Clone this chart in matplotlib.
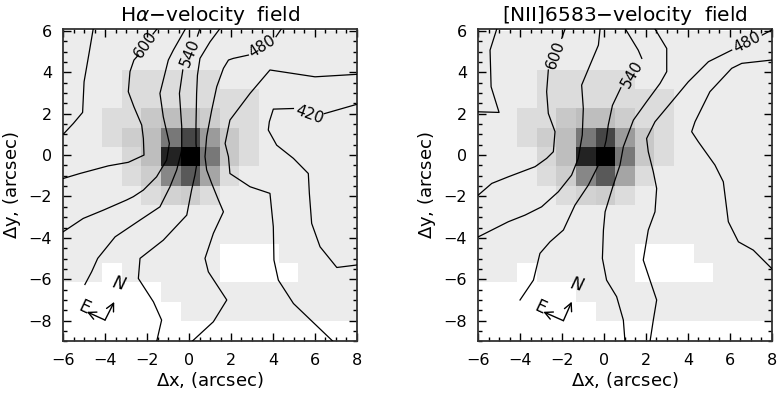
import matplotlib.pyplot as plt
import numpy as np
from matplotlib.ticker import MultipleLocator

plt.rcParams['font.family'] = ['DejaVu Sans']

# continuum image, gray level per cell (0 = black, 255 = white)
# 15 x 15 cells covering x -6..8, y -8..6 ; rows listed from the top
B = 236
W = 255
cont_rows = [
    [B, B, B, B, B, B, B, B, B, B, B, B, B, B, B],
    [B, B, B, B, B, B, B, B, B, B, B, B, B, B, B],
    [B, B, B, 220, 220, 220, 220, 220, B, B, B, B, B, B, B],
    [B, B, B, 220, 220, 220, 220, 220, 220, 220, B, B, B, B, B],
    [B, B, 220, 220, 200, 190, 190, 205, 220, 220, B, B, B, B, B],
    [B, B, 220, 205, 190, 120, 70, 155, 200, 220, B, B, B, B, B],
    [B, B, B, 215, 190, 35, 0, 120, 200, 220, B, B, B, B, B],
    [B, B, B, 220, 205, 135, 90, 165, 220, B, B, B, B, B, B],
    [B, B, B, B, 220, 210, 205, 220, B, B, B, B, B, B, B],
    [B, B, B, B, B, B, B, B, B, B, B, B, B, B, B],
    [B, B, B, B, B, B, B, B, B, B, B, B, B, B, B],
    [B, B, B, B, B, B, B, B, W, W, W, B, B, B, B],
    [B, B, W, B, B, B, B, B, W, W, W, W, B, B, B],
    [W, W, W, W, W, B, B, B, B, B, B, B, B, B, B],
    [W, W, W, W, W, W, B, B, B, B, B, B, B, B, B],
]
cont_extent = [-6, 8, -8, 6]

nan = np.nan

# H-alpha velocity contours (km/s), traced points; nan marks the gap at a label
ha_630 = [(-4.57, 6.12), (-4.76, 4.99), (-5.01, 3.54), (-5.08, 2.06), (-5.52, 1.53), (-6.0, 1.01)]
ha_600 = [(-1.51, 6.12), (-1.72, 5.85), (nan, nan), (-2.42, 4.83), (-2.63, 4.59), (-2.82, 4.03),
          (-2.90, 3.06), (-2.63, 2.33), (-2.26, 1.45), (-2.18, 0.80), (-2.15, 0.0), (-2.90, -0.35),
          (-3.85, -0.52), (-5.21, -0.89), (-6.0, -1.13)]
ha_570 = [(-0.16, 6.12), (-0.75, 5.07), (-0.99, 4.59), (-1.39, 2.98), (-1.23, 1.85), (-0.94, 0.56),
          (-1.07, -0.24), (-1.55, -1.05), (-2.18, -1.69), (-2.66, -2.01), (-2.98, -2.17),
          (-4.09, -2.66), (-5.05, -3.06), (-6.0, -3.70)]
ha_540 = [(0.52, 6.12), (0.40, 5.75), (nan, nan), (-0.30, 4.11), (-0.46, 2.98), (-0.35, 1.37),
          (-0.35, 0.24), (-0.59, -0.72), (-0.91, -1.53), (-1.39, -2.50), (-2.34, -3.14),
          (-3.53, -3.95), (-4.36, -4.99), (-4.65, -5.64), (-4.97, -6.25)]
ha_510 = [(1.48, 6.12), (1.0, 5.47), (0.52, 4.67), (0.40, 3.86), (0.36, 2.98), (0.33, 1.45),
          (0.33, 0.56), (0.40, -0.24), (0.28, -0.97), (0.12, -1.69), (-0.11, -2.90), (-1.23, -4.11),
          (-2.34, -4.99), (-2.42, -5.96), (-1.70, -7.09), (-1.31, -7.97), (-1.55, -9.02)]
ha_480 = [(4.42, 6.12), (4.15, 5.72), (nan, nan), (2.83, 4.83), (2.11, 4.67), (1.88, 4.59),
          (1.64, 4.19), (1.32, 3.30), (1.08, 2.17), (0.84, 0.89), (0.76, -0.08), (0.84, -0.72),
          (1.08, -1.37), (1.40, -2.17), (1.64, -2.74), (1.16, -3.78), (0.76, -4.99), (0.92, -5.64),
          (1.80, -7.0), (1.16, -8.05), (0.12, -9.02)]
ha_450 = [(8.0, 3.90), (6.01, 3.78), (3.86, 4.11), (2.91, 2.98), (1.95, 1.69), (1.72, 0.56),
          (1.88, -0.08), (1.95, -0.89), (2.91, -1.53), (3.86, -1.85), (4.02, -3.46), (4.05, -5.07),
          (4.26, -6.04), (4.98, -7.17), (6.89, -9.02)]
ha_420 = [(8.0, 2.45), (6.45, 2.0), (nan, nan), (4.98, 2.25), (4.02, 2.22), (3.83, 1.61),
          (3.78, 1.21), (4.18, 0.48), (4.98, -0.16), (5.69, -0.89), (5.74, -1.85), (5.85, -3.30),
          (6.25, -4.43), (7.05, -5.43), (8.0, -5.31)]
ha_lines = [ha_630, ha_600, ha_570, ha_540, ha_510, ha_480, ha_450, ha_420]
ha_labels = [("600", -2.08, 5.32, 55), ("540", 0.05, 4.93, 68),
             ("480", 3.48, 5.25, 32), ("420", 5.72, 1.95, -20)]

# [NII]6583 velocity contours
n2_630 = [(-5.12, 6.09), (-5.44, 5.07), (-5.39, 3.30), (-5.01, 2.06), (-6.0, 2.09)]
n2_600 = [(-1.86, 6.09), (-2.02, 5.64), (nan, nan), (-2.66, 4.11), (-2.74, 3.06), (-2.66, 2.01),
          (-2.34, 1.13), (-2.42, 0.16), (-2.74, -0.16), (-3.29, -0.56), (-4.57, -1.05),
          (-5.36, -1.37), (-6.0, -1.93)]
n2_570 = [(-0.19, 6.09), (-0.27, 5.31), (-0.67, 4.35), (-1.07, 3.38), (-0.99, 2.25), (-1.04, 0.97),
          (-1.23, -0.16), (-1.55, -0.97), (-2.18, -1.77), (-2.98, -2.50), (-3.77, -2.90),
          (-4.57, -3.22), (-6.0, -3.95)]
n2_540 = [(1.0, 6.12), (1.63, 5.07), (1.80, 4.67), (nan, nan), (0.80, 3.25), (0.40, 2.40),
          (0.20, 1.45), (0.10, 0.72), (-0.11, -0.16), (-0.43, -0.81), (-0.75, -1.45),
          (-1.39, -2.42), (-1.94, -3.62), (-2.58, -4.19), (-3.06, -4.75), (-3.37, -6.04),
          (-4.01, -7.0)]
n2_510 = [(2.43, 6.09), (2.99, 5.15), (2.99, 4.03), (2.67, 3.46), (2.03, 2.58), (1.40, 1.69),
          (0.92, 0.40), (0.76, -0.48), (0.44, -1.45), (0.05, -2.74), (-0.03, -3.62), (-0.08, -4.99),
          (0.12, -6.04), (0.60, -6.84), (0.92, -7.97), (1.0, -9.02)]
n2_480 = [(8.0, 6.04), (7.55, 5.80), (nan, nan), (6.09, 5.07), (4.98, 4.51), (4.02, 3.54),
          (3.23, 2.58), (2.43, 1.61), (2.03, 0.80), (2.11, 0.16), (2.35, -0.81), (2.51, -1.61),
          (2.43, -2.74), (2.11, -3.62), (1.87, -5.07), (2.19, -6.04), (2.51, -7.0), (2.35, -7.97),
          (2.19, -9.02)]
n2_450 = [(8.0, 4.59), (6.57, 4.43), (6.09, 4.19), (5.05, 3.06), (4.34, 1.61), (4.18, 1.13),
          (4.50, 0.64), (5.29, -0.48), (5.69, -1.29), (5.93, -3.22), (6.41, -4.19), (7.12, -4.59),
          (8.08, -5.56)]
n2_lines = [n2_630, n2_600, n2_570, n2_540, n2_510, n2_480, n2_450]
n2_labels = [("600", -2.29, 4.86, 70), ("540", 1.35, 3.92, 60), ("480", 6.82, 5.42, 27)]

# orientation arrows: corner, N tip, E tip, N letter, E letter
ha_compass = [(-4.01, -7.97), (-3.57, -7.09), (-4.88, -7.57), (-3.37, -6.23), (-5.0, -7.36)]
n2_compass = [(-1.94, -8.0), (-1.54, -7.08), (-2.90, -7.57), (-1.28, -6.28), (-3.06, -7.36)]


def draw_panel(ax, title, lines, labels, compass):
    img = np.array(cont_rows, dtype=float)
    ax.imshow(img, cmap='gray', vmin=0, vmax=255, extent=cont_extent,
              interpolation='nearest', aspect='auto', zorder=1)
    for pts in lines:
        xy = np.array(pts, dtype=float)
        ax.plot(xy[:, 0], xy[:, 1], color='black', lw=0.9, zorder=3)
    for txt, lx, ly, rot in labels:
        ax.text(lx, ly, txt, fontsize=11, rotation=rot, ha='center', va='center',
                rotation_mode='anchor', zorder=4)

    corner, n_tip, e_tip, n_pos, e_pos = compass
    for tip in (n_tip, e_tip):
        ax.annotate('', xy=tip, xytext=corner,
                    arrowprops=dict(arrowstyle='->', lw=1.0, color='black',
                                    shrinkA=0, shrinkB=0, mutation_scale=14), zorder=4)
    ax.text(n_pos[0], n_pos[1], 'N', fontsize=12, style='italic', ha='center', va='center',
            rotation=-15, zorder=4)
    ax.text(e_pos[0], e_pos[1], 'E', fontsize=12, ha='center', va='center',
            rotation=-25, zorder=4)

    ax.set_xlim(-6, 8)
    ax.set_ylim(-9, 6.09)
    ax.xaxis.set_major_locator(MultipleLocator(2))
    ax.yaxis.set_major_locator(MultipleLocator(2))
    ax.xaxis.set_minor_locator(MultipleLocator(0.5))
    ax.yaxis.set_minor_locator(MultipleLocator(0.5))
    ax.tick_params(which='both', direction='in', top=True, right=True, labelsize=11.5)
    ax.tick_params(which='major', length=6, width=1, pad=8)
    ax.tick_params(which='minor', length=3, width=1)
    for sp in ax.spines.values():
        sp.set_linewidth(1.3)
        sp.set_color('#333333')
    ax.set_title(title, fontsize=14.5, pad=6)
    ax.set_xlabel(r'$\Delta$x, (arcsec)', fontsize=13, labelpad=2)
    ax.set_ylabel(r'$\Delta$y, (arcsec)', fontsize=13, labelpad=4)


fig = plt.figure(figsize=(7.77, 3.95), dpi=100)
ax1 = fig.add_axes([0.0815, 0.1357, 0.3776, 0.7909])
ax2 = fig.add_axes([0.6156, 0.1357, 0.3776, 0.7909])

draw_panel(ax1, r'H$\alpha$$-$velocity  field', ha_lines, ha_labels, ha_compass)
draw_panel(ax2, r'[NII]6583$-$velocity  field', n2_lines, n2_labels, n2_compass)

fig.savefig('out.png', dpi=100)
